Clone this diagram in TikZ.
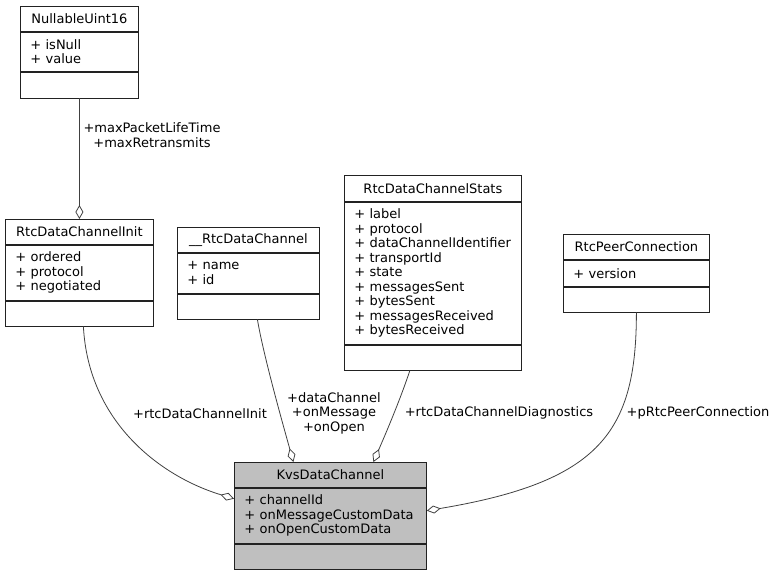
\documentclass[tikz,border=0pt]{standalone}
\usepackage{fontspec}
\setmainfont{DejaVu Sans}
\usetikzlibrary{arrows.meta,positioning,calc}
\definecolor{edgeGray}{HTML}{404040}
\definecolor{boxLine}{HTML}{222222}
\definecolor{kvsFill}{HTML}{BFBFBF}

\begin{document}
\begin{tikzpicture}[x=1pt, y=-1pt,
    every node/.style={font=\fontsize{13}{14.5}\selectfont, inner sep=0pt},
    cell/.style={draw=boxLine, line width=0.8pt, minimum width=#1, minimum height=25pt},
    attrs/.style={draw=boxLine, line width=0.8pt, text width=#1, inner xsep=10pt, align=left},
    lbl/.style={align=center},
    agg/.style={draw=edgeGray, line width=0.8pt, -{Diamond[open, length=14pt, width=8pt, line width=0.8pt]}}]
    \useasboundingbox (0,0) rectangle (775,573);

    % NullableUint16
    \node[cell=118pt, anchor=north west] (nuTitle) at (20,6) {NullableUint16};
    \node[attrs=98pt, minimum height=39pt, below=0pt of nuTitle] (nuAttr) {+ isNull\\+ value};
    \node[cell=118pt, minimum height=26pt, below=0pt of nuAttr] (nuOps) {};

    % RtcDataChannelInit
    \node[cell=148pt, anchor=north west] (inTitle) at (5,219) {RtcDataChannelInit};
    \node[attrs=128pt, minimum height=55pt, below=0pt of inTitle] (inAttr) {+ ordered\\+ protocol\\+ negotiated};
    \node[cell=148pt, below=0pt of inAttr] (inOps) {};

    % __RtcDataChannel
    \node[cell=142pt, anchor=north west] (rawTitle) at (177,227) {\_\_RtcDataChannel};
    \node[attrs=122pt, minimum height=40pt, below=0pt of rawTitle] (rawAttr) {+ name\\+ id};
    \node[cell=142pt, below=0pt of rawAttr] (rawOps) {};

    % RtcDataChannelStats
    \node[cell=177pt, minimum height=26pt, anchor=north west] (stTitle) at (344,175) {RtcDataChannelStats};
    \node[attrs=157pt, minimum height=142pt, below=0pt of stTitle] (stAttr) {+ label\\+ protocol\\+ dataChannelIdentifier\\+ transportId\\+ state\\+ messagesSent\\+ bytesSent\\+ messagesReceived\\+ bytesReceived};
    \node[cell=177pt, below=0pt of stAttr] (stOps) {};

    % RtcPeerConnection
    \node[cell=146pt, anchor=north west] (peTitle) at (563,234) {RtcPeerConnection};
    \node[attrs=126pt, minimum height=26pt, below=0pt of peTitle] (peAttr) {+ version};
    \node[cell=146pt, below=0pt of peAttr] (peOps) {};

    % KvsDataChannel
    \node[cell=192pt, fill=kvsFill, anchor=north west] (kvsTitle) at (234,462) {KvsDataChannel};
    \node[attrs=172pt, fill=kvsFill, minimum height=55pt, below=0pt of kvsTitle] (kvsAttr) {+ channelId\\+ onMessageCustomData\\+ onOpenCustomData};
    \node[cell=192pt, fill=kvsFill, below=0pt of kvsAttr] (kvsOps) {};

    % aggregations
    \draw[agg] (nuOps.south) -- (inTitle.north);
    \draw[agg] ([xshift=4pt]inOps.south) .. controls +(5,96) and +(-73,-22) .. ([yshift=17pt]kvsAttr.west);
    \draw[agg] ([xshift=9pt]rawOps.south) .. controls +(6,36) and +(-10,-36) .. ([xshift=-37pt]kvsTitle.north);
    \draw[agg] ([xshift=-23pt]stOps.south) .. controls +(-10,30) and +(13,-30) .. ([xshift=43pt]kvsTitle.north);
    \draw[agg] (peOps.south) .. controls +(0,120) and +(173,-29) .. ([yshift=5pt]kvsAttr.east);

    % role labels
    \node[lbl] (nuRole) at (152,135) {+maxPacketLifeTime\\+maxRetransmits};
    \node[lbl] (inRole) at (200,414) {+rtcDataChannelInit};
    \node[lbl] (rawRole) at (334,413) {+dataChannel\\+onMessage\\+onOpen};
    \node[lbl] (stRole) at (499,413) {+rtcDataChannelDiagnostics};
    \node[lbl] (peRole) at (698,413) {+pRtcPeerConnection};
\end{tikzpicture}
\end{document}
